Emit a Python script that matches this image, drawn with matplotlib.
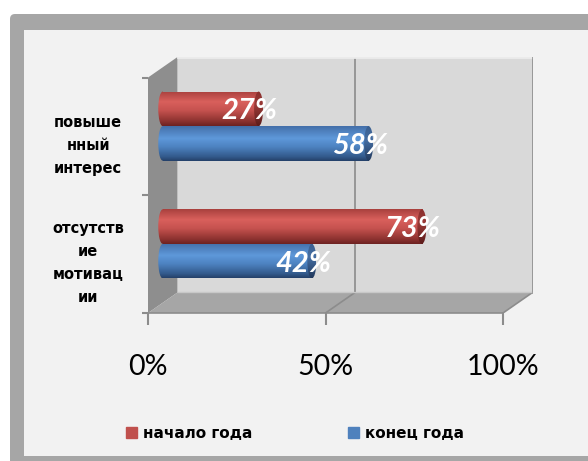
import numpy as np
import matplotlib
matplotlib.use("Agg")
import matplotlib.pyplot as plt
from matplotlib.patches import Polygon, Ellipse, FancyBboxPatch, Patch
from matplotlib.colors import to_rgb
from matplotlib.transforms import IdentityTransform

# ---- data ----
categories = ["отсутств\nие\nмотивац\nии", "повыше\nнный\nинтерес"]
start_year = [73, 27]   # начало года
end_year = [42, 58]     # конец года
series_names = ["начало года", "конец года"]
xtick_vals = [0, 0.5, 1.0]
xtick_labels = ["0%", "50%", "100%"]

W, H = 588, 461
fig = plt.figure(figsize=(W / 100, H / 100), dpi=100)
fig.patch.set_facecolor("white")

# frame
fig.patches.append(FancyBboxPatch((10, -20), 620, 467, boxstyle="round,pad=0,rounding_size=5",
                                  transform=IdentityTransform(), facecolor="#a6a6a6",
                                  edgecolor="none", zorder=-10))
fig.patches.append(FancyBboxPatch((24, 5), 620, 426, boxstyle="square,pad=0",
                                  transform=IdentityTransform(), facecolor="#f2f2f2",
                                  edgecolor="none", zorder=-9))

L, R, T, B = 148, 532.5, 57, 313
ax = fig.add_axes([L / W, 1 - B / H, (R - L) / W, (B - T) / H])
ax.set_zorder(1)
ax.set_facecolor("none")
DX = 29.5 / 355.0
DY = 20.5 / 117.5
ymin, ymax = -0.5, 1.5

# walls
ax.add_patch(Polygon([(DX, ymin + DY), (1 + DX, ymin + DY), (1 + DX, ymax + DY), (DX, ymax + DY)],
                     closed=True, facecolor="#d9d9d9", edgecolor="none", zorder=1))
ax.add_patch(Polygon([(0, ymin), (0, ymax), (DX, ymax + DY), (DX, ymin + DY)],
                     closed=True, facecolor="#8e8e8e", edgecolor="none", zorder=1))
ax.add_patch(Polygon([(0, ymin), (DX, ymin + DY), (1 + DX, ymin + DY), (1, ymin)],
                     closed=True, facecolor="#a6a6a6", edgecolor="none", zorder=1))
# grid lines
for xv in xtick_vals[1:]:
    ax.plot([xv + DX, xv + DX], [ymin + DY, ymax + DY], color="#8c8c8c", lw=1.2, zorder=2)
    ax.plot([xv, xv + DX], [ymin, ymin + DY], color="#8c8c8c", lw=1.2, zorder=2)
ax.plot([DX, 1 + DX], [ymax + DY, ymax + DY], color="#ebebeb", lw=2, zorder=2)
ax.plot([DX, 1 + DX], [ymin + DY, ymin + DY], color="#c8c8c8", lw=1, zorder=2)
ax.plot([0, 1], [ymin, ymin], color="#8c8c8c", lw=1.2, zorder=2, clip_on=False)
ax.plot([1 + DX, 1 + DX], [ymin + DY, ymax + DY], color="#9a9a9a", lw=2, zorder=2)


def grad_img(stops, n=64):
    pos = [p for p, _ in stops]
    cols = np.array([to_rgb(c) for _, c in stops])
    t = np.linspace(0, 1, n)
    arr = np.stack([np.interp(t, pos, cols[:, k]) for k in range(3)], axis=-1)
    return arr[:, None, :]


red_body = grad_img([(0, "#a9413e"), (0.3, "#d9605c"), (0.55, "#c6524f"), (0.85, "#8f3331"), (1, "#6e2322")])
red_cap = grad_img([(0, "#8a2f2d"), (0.4, "#9a3a37"), (1, "#5c1c1b")])
blue_body = grad_img([(0, "#4470aa"), (0.35, "#5e98da"), (0.6, "#4d82c0"), (0.88, "#335a8c"), (1, "#25416a")])
blue_cap = grad_img([(0, "#3a5f8f"), (0.4, "#456ea3"), (1, "#22395c")])

BH = 34.5 / 117.5
CAPW = 9 / 355.0
x0 = DX / 2


def cylinder(yc, v, body, cap):
    rect = ax.barh(yc, v, left=x0, height=BH, color=to_rgb(body[32, 0]), zorder=3)[0]
    im = ax.imshow(body, extent=(x0, x0 + v, yc - BH / 2, yc + BH / 2), aspect="auto",
                   origin="upper", zorder=4, interpolation="bilinear")
    im.set_clip_path(rect)
    el = Ellipse((x0, yc), CAPW, BH, facecolor="none", edgecolor="none", zorder=3)
    ax.add_patch(el)
    im2 = ax.imshow(body, extent=(x0 - CAPW / 2, x0, yc - BH / 2, yc + BH / 2), aspect="auto",
                    origin="upper", zorder=4, interpolation="bilinear")
    im2.set_clip_path(el)
    el2 = Ellipse((x0 + v, yc), CAPW, BH, facecolor="none", edgecolor="none", zorder=5)
    ax.add_patch(el2)
    im3 = ax.imshow(cap, extent=(x0 + v - CAPW / 2, x0 + v + CAPW / 2, yc - BH / 2, yc + BH / 2),
                    aspect="auto", origin="upper", zorder=5, interpolation="bilinear")
    im3.set_clip_path(el2)
    ax.text(x0 + v - 0.025, yc - 0.02, f"{round(v * 100)}%", ha="center", va="center",
            color="white", fontsize=21, fontfamily="Lato", fontweight="bold",
            fontstyle="italic", zorder=6)


for i in range(len(categories)):
    cylinder(i + DY / 2 + BH / 2, start_year[i] / 100, red_body, red_cap)
    cylinder(i + DY / 2 - BH / 2, end_year[i] / 100, blue_body, blue_cap)

ax.set_xlim(0, 1 + DX)
ax.set_ylim(ymin, ymax + DY)
for s in ax.spines.values():
    s.set_visible(False)

ax.set_xticks(xtick_vals, xtick_labels)
ax.tick_params(axis="x", length=8.6, width=1.5, color="#8c8c8c", pad=21, labelsize=20.5)
for lbl in ax.get_xticklabels():
    lbl.set_fontfamily("Lato")

ax.set_yticks([ymin, 0.5, ymax])
ax.set_yticklabels([])
ax.tick_params(axis="y", which="major", length=4.3, width=1.5, color="#8c8c8c")
ax.set_yticks([0 - 0.03, 1 - 0.03], categories, minor=True)
ax.tick_params(axis="y", which="minor", length=0, pad=43)
for lbl in ax.get_yticklabels(minor=True):
    lbl.set_ha("center")
    lbl.set_fontweight("bold")
    lbl.set_fontsize(10.5)
    lbl.set_linespacing(1.65)

handles = [Patch(color="#c0504d"), Patch(color="#4f81bd")]
fig.legend(handles, series_names, loc="center", bbox_to_anchor=(295 / W, 1 - 433 / H),
           ncol=2, frameon=False, prop={"weight": "bold", "size": 11},
           handlelength=0.75, handleheight=0.75, handletextpad=0.4, columnspacing=6.2)

fig.savefig("out.png", dpi=100)
